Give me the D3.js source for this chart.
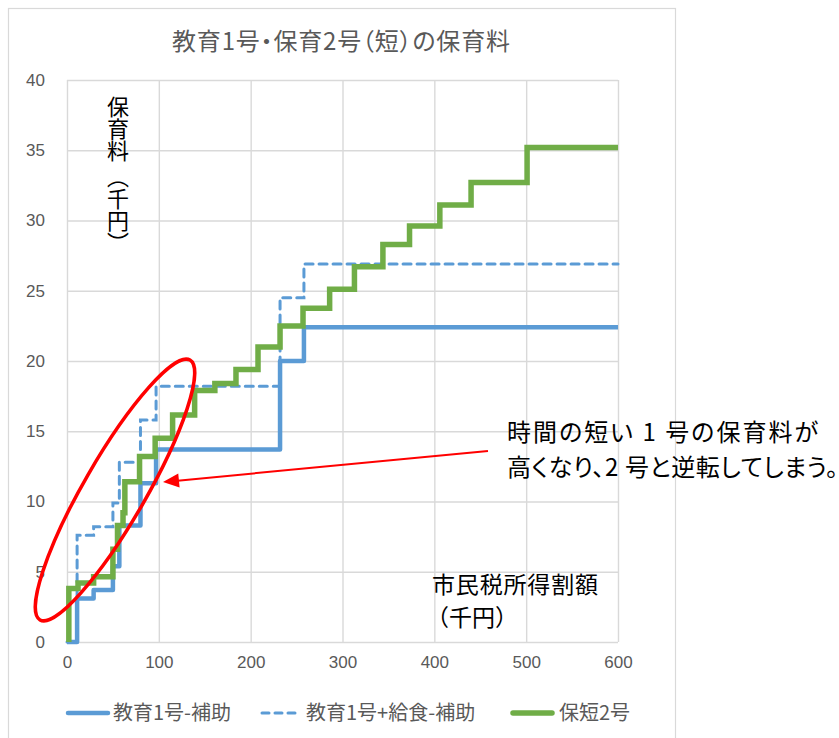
<!DOCTYPE html>
<html><head><meta charset="utf-8">
<script src="https://cdn.jsdelivr.net/npm/d3@7"></script>
<style>
body{margin:0;background:#fff}
svg{display:block}
text{font-family:"Noto Sans CJK JP","Noto Sans",sans-serif}
.p{font-feature-settings:"palt"}
</style>
</head><body>
<script>
// ---- data ----
const chartTitle = "教育1号・保育2号（短）の保育料";
const xTicks = [0,100,200,300,400,500,600];
const yTicks = [0,5,10,15,20,25,30,35,40];
const seriesNames = ["教育1号-補助","教育1号+給食-補助","保短2号"];
// 教育1号 thresholds (市民税所得割額, 千円) and fees (千円)
const eduX     = [0, 11, 29, 50, 57, 80, 97, 232, 258, 600];
const eduFee   = [0, 3.1, 3.7, 5.4, 8.3, 11.3, 13.7, 20.0, 22.4, 22.4];
const eduMeal  = [0, 7.6, 8.2, 9.9, 12.8, 15.8, 18.2, 24.5, 26.9, 26.9];
// 保短2号
const hoX = [2, 2, 12, 29, 50, 55, 61, 63, 79, 96, 115, 139, 161, 184, 208, 232, 257, 286, 313, 344, 373, 406, 440, 501, 600];
const hoV = [0, 3.8, 4.2, 4.65, 6.6, 8.3, 9.2, 11.4, 13.2, 14.5, 16.15, 17.9, 18.4, 19.4, 21.0, 22.5, 23.75, 25.1, 26.7, 28.3, 29.6, 31.1, 32.7, 35.2, 35.2];
const yLabelA = "保育料";
const yLabelB = "（千円）";
const xLabel1 = "市民税所得割額";
const xLabel2 = "（千円）";
const note1 = "時間の短い 1 号の保育料が";
const note2 = "高くなり、2 号と逆転してしまう。";

// ---- layout ----
const W = 839, H = 738;
const L = 67, R = 618, T = 80, B = 642;
const svg = d3.select("body").append("svg").attr("width", W).attr("height", H);

svg.append("rect").attr("x", 8.5).attr("y", 8.5).attr("width", 667).attr("height", 740)
  .attr("fill", "#fff").attr("stroke", "#D9D9D9").attr("stroke-width", 1.2);

const x = d3.scaleLinear().domain([0, 600]).range([L, R]);
const y = d3.scaleLinear().domain([0, 40]).range([B, T]);

const gx = svg.append("g").attr("transform", `translate(0,${B})`)
  .call(d3.axisBottom(x).tickValues(xTicks).tickSize(-(B - T)).tickPadding(14).tickFormat(d3.format("d")));
const gy = svg.append("g").attr("transform", `translate(${L},0)`)
  .call(d3.axisLeft(y).tickValues(yTicks).tickSize(-(R - L)).tickPadding(22).tickFormat(d3.format("d")));
[gx, gy].forEach(g => {
  g.select(".domain").remove();
  g.selectAll(".tick line").attr("stroke", "#D9D9D9").attr("stroke-width", 1.4);
  g.selectAll(".tick text").attr("fill", "#595959").style("font-size", "17px")
    .style("font-family", "'Liberation Sans','Noto Sans',sans-serif");
});

const line = d3.line().x(d => x(d[0])).y(d => y(d[1])).curve(d3.curveStepAfter);
const eduSolidPts = eduX.map((v, i) => [v, eduFee[i]]);
const eduMealPts = eduX.map((v, i) => [v, eduMeal[i]]);
const hoPts = hoX.map((v, i) => [v, hoV[i]]);

svg.append("path").attr("d", line(eduSolidPts)).attr("fill", "none")
  .attr("stroke", "#5B9BD5").attr("stroke-width", 4.5).attr("stroke-linejoin", "round");
svg.append("path").attr("d", line(eduMealPts)).attr("fill", "none")
  .attr("stroke", "#5B9BD5").attr("stroke-width", 3).attr("stroke-dasharray", "8,6")
  .attr("stroke-linecap", "round");
svg.append("path").attr("d", line(hoPts)).attr("fill", "none")
  .attr("stroke", "#70AD47").attr("stroke-width", 5.5).attr("stroke-linejoin", "miter");

// title
svg.append("text").attr("class", "p").attr("x", 172).attr("y", 50)
  .attr("textLength", 338).attr("lengthAdjust", "spacing")
  .attr("fill", "#595959").style("font-size", "24px").text(chartTitle);

// y label (vertical)
svg.append("text").attr("x", 118).attr("y", 96)
  .style("writing-mode", "vertical-rl").style("font-size", "22px").attr("fill", "#000")
  .text(yLabelA);
svg.append("text").attr("x", 118).attr("y", 166)
  .style("writing-mode", "vertical-rl").style("font-size", "22px").attr("fill", "#000")
  .text(yLabelB);

// x label
svg.append("text").attr("class", "p").attr("x", 432).attr("y", 593).style("font-size", "23px")
  .attr("textLength", 166).attr("lengthAdjust", "spacing").attr("fill", "#000").text(xLabel1);
svg.append("text").attr("x", 426).attr("y", 626).style("font-size", "23px").attr("fill", "#000").text(xLabel2);

// red ellipse
svg.append("ellipse").attr("cx", 115).attr("cy", 490).attr("rx", 150).attr("ry", 31)
  .attr("transform", "rotate(-60,115,490)")
  .attr("fill", "none").attr("stroke", "#FF0000").attr("stroke-width", 3.5);

// arrow
const ax1 = 488, ay1 = 451, ax2 = 163, ay2 = 482;
svg.append("line").attr("x1", ax1).attr("y1", ay1).attr("x2", ax2 + 12).attr("y2", ay2 - 1.1)
  .attr("stroke", "#FF0000").attr("stroke-width", 2);
const ang = Math.atan2(ay2 - ay1, ax2 - ax1);
const hl = 16, hw = 7;
const bx = ax2 - hl * Math.cos(ang), by = ay2 - hl * Math.sin(ang);
svg.append("path").attr("d", `M${ax2},${ay2}L${bx - hw * Math.sin(ang)},${by + hw * Math.cos(ang)}L${bx + hw * Math.sin(ang)},${by - hw * Math.cos(ang)}Z`)
  .attr("fill", "#FF0000");

// annotation
svg.append("text").attr("class", "p").attr("x", 507).attr("y", 441).style("font-size", "24px")
  .attr("textLength", 311).attr("lengthAdjust", "spacing").attr("fill", "#000").text(note1);
svg.append("text").attr("class", "p").attr("x", 507).attr("y", 476).style("font-size", "24px")
  .attr("textLength", 331).attr("lengthAdjust", "spacing").attr("fill", "#000").text(note2);

// legend
const legY = 713;
const leg = [
  {x1: 68, x2: 108, tx: 113, color: "#5B9BD5", w: 4.5, dash: null},
  {x1: 262, x2: 300, tx: 306, color: "#5B9BD5", w: 3, dash: "7,6"},
  {x1: 513, x2: 552, tx: 559, color: "#70AD47", w: 5.5, dash: null}
];
leg.forEach((d, i) => {
  svg.append("line").attr("x1", d.x1).attr("x2", d.x2).attr("y1", legY).attr("y2", legY)
    .attr("stroke", d.color).attr("stroke-width", d.w).attr("stroke-dasharray", d.dash)
    .attr("stroke-linecap", "round");
  svg.append("text").attr("class", "p").attr("x", d.tx).attr("y", legY + 7).style("font-size", "20px")
    .attr("fill", "#595959").text(seriesNames[i]);
});
</script>
</body></html>
